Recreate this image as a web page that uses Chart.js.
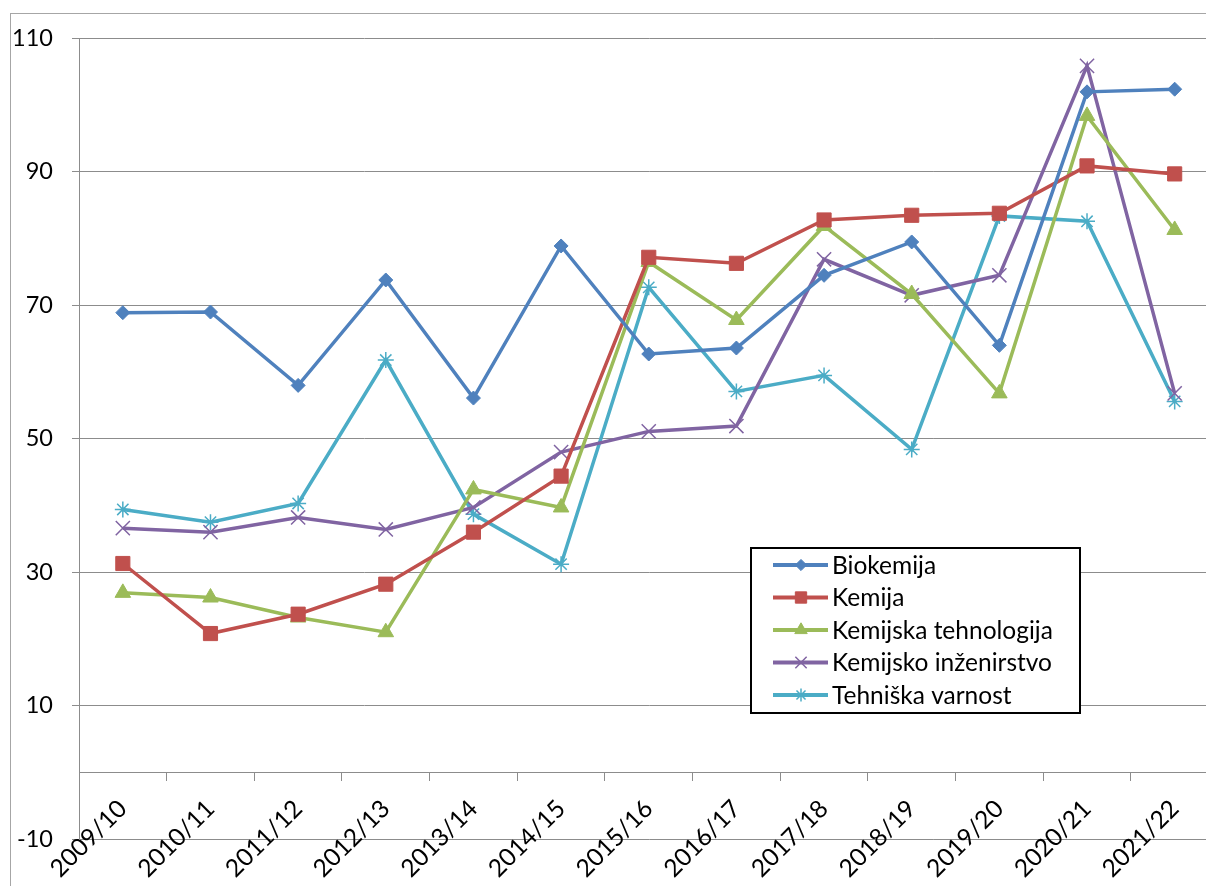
<!DOCTYPE html>
<html>
<head>
<meta charset="utf-8">
<script src="https://cdn.jsdelivr.net/npm/chart.js@4/dist/chart.umd.min.js"></script>
<style>
  html, body { margin: 0; padding: 0; background: #fff; overflow: hidden; }
  #wrap { position: relative; width: 1206px; height: 886px; overflow: hidden; }
  #frame { position: absolute; left: 10px; top: 13px; width: 1300px; height: 1000px; border: 1px solid #a6a6a6; }
  #chart { position: absolute; left: 0; top: 0; }
</style>
</head>
<body>
<div id="wrap">
  <div id="frame"></div>
  <canvas id="chart" width="1230" height="886"></canvas>
</div>
<script>
const years = ["2009/10", "2010/11", "2011/12", "2012/13", "2013/14", "2014/15", "2015/16",
               "2016/17", "2017/18", "2018/19", "2019/20", "2020/21", "2021/22"];

const biokemija   = [68.9, 69.0, 58.0, 73.8, 56.1, 78.9, 62.7, 63.6, 74.5, 79.5, 64.0, 102.0, 102.4];
const kemija      = [31.3, 20.8, 23.7, 28.2, 36.0, 44.4, 77.2, 76.3, 82.8, 83.5, 83.8, 90.9, 89.7];
const tehnologija = [26.9, 26.2, 23.2, 21.0, 42.4, 39.7, 76.5, 67.8, 81.9, 71.7, 56.8, 98.4, 81.3];
const inzenirstvo = [36.6, 36.0, 38.2, 36.4, 39.7, 48.0, 51.1, 51.9, 76.9, 71.5, 74.5, 105.9, 56.8];
const varnost     = [39.4, 37.5, 40.3, 61.8, 38.7, 31.2, 72.7, 57.1, 59.5, 48.4, 83.4, 82.6, 55.6];

const yTicks = [-10, 10, 30, 50, 70, 90, 110];

const FONT = "Lato, 'Open Sans', sans-serif";

function series(label, data, color, style, radius, bw) {
    return {
        label: label,
        data: data,
        borderColor: color,
        backgroundColor: color,
        borderWidth: 3.5,
        pointStyle: style,
        pointRadius: radius,
        pointHoverRadius: radius,
        pointBackgroundColor: color,
        pointBorderColor: color,
        pointBorderWidth: bw,
        tension: 0
    };
}

// legend drawn by hand: Excel style, line + marker in a black box
const legendBox = {
    id: "legendBox",
    afterDraw(chart) {
        const ctx = chart.ctx;
        const x = 751, y = 548, w = 329, h = 165;
        ctx.save();
        ctx.fillStyle = "#ffffff";
        ctx.fillRect(x, y, w, h);
        ctx.lineWidth = 2;
        ctx.strokeStyle = "#000000";
        ctx.strokeRect(x, y, w, h);
        chart.data.datasets.forEach((ds, i) => {
            const cy = y + 17 + i * 32.5;
            ctx.strokeStyle = ds.borderColor;
            ctx.lineWidth = 4;
            ctx.beginPath();
            ctx.moveTo(x + 22, cy);
            ctx.lineTo(x + 77, cy);
            ctx.stroke();
            ctx.fillStyle = ds.pointBackgroundColor;
            ctx.strokeStyle = ds.pointBorderColor;
            ctx.lineWidth = ds.pointBorderWidth;
            Chart.helpers.drawPoint(ctx, {
                pointStyle: ds.pointStyle, radius: ds.pointRadius * 0.8,
                borderWidth: ds.pointBorderWidth, rotation: 0
            }, x + 50, cy);
            ctx.fillStyle = "#000000";
            ctx.font = "24.5px " + FONT;
            ctx.textBaseline = "middle";
            ctx.textAlign = "left";
            ctx.fillText(ds.label, x + 81, cy + 1);
        });
        ctx.restore();
    }
};

new Chart(document.getElementById("chart"), {
    type: "line",
    data: {
        labels: years,
        datasets: [
            series("Biokemija", biokemija, "#4F81BD", "rectRot", 7, 1),
            series("Kemija", kemija, "#C0504D", "rect", 10, 1),
            series("Kemijska tehnologija", tehnologija, "#9BBB59", "triangle", 9, 1),
            series("Kemijsko inženirstvo", inzenirstvo, "#8064A2", "crossRot", 10, 1.5),
            series("Tehniška varnost", varnost, "#4BACC6", "star", 8, 1.5)
        ]
    },
    options: {
        responsive: false,
        animation: false,
        layout: { padding: { top: 38.5, right: 10, bottom: 47, left: 0 } },
        plugins: {
            legend: { display: false },
            tooltip: { enabled: false }
        },
        scales: {
            x: {
                position: { y: 0 },
                offset: true,
                grid: {
                    offset: true,
                    drawOnChartArea: false,
                    drawTicks: true,
                    tickLength: 8,
                    color: "#8c8c8c"
                },
                border: { display: true, color: "#8c8c8c", width: 1 },
                ticks: {
                    autoSkip: false,
                    minRotation: 45,
                    maxRotation: 45,
                    padding: 14,
                    color: "#000000",
                    font: { family: FONT, size: 24.5 }
                }
            },
            y: {
                min: -10,
                max: 110,
                afterFit(scale) { scale.width = 79; },
                afterBuildTicks(scale) { scale.ticks = yTicks.map(v => ({ value: v })); },
                grid: {
                    color: "#8c8c8c",
                    tickLength: 7,
                    drawTicks: true
                },
                border: { display: true, color: "#8c8c8c", width: 1 },
                ticks: {
                    padding: 19,
                    color: "#000000",
                    font: { family: FONT, size: 23.5 }
                }
            }
        }
    },
    plugins: [legendBox]
});
</script>
</body>
</html>
